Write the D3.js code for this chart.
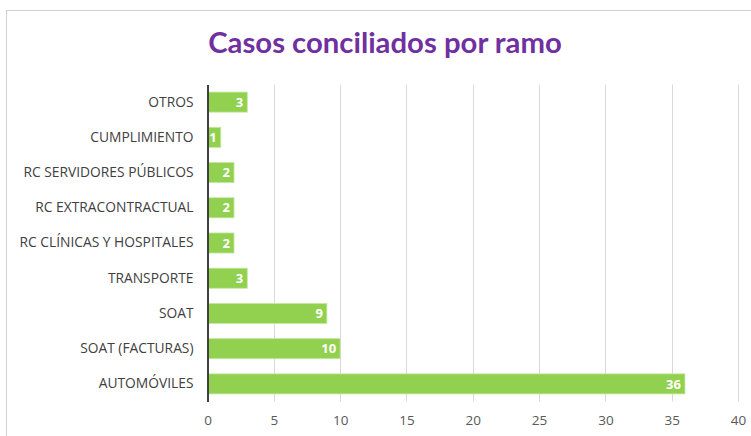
<!DOCTYPE html>
<html><head><meta charset="utf-8">
<script src="https://cdn.jsdelivr.net/npm/d3@7"></script>
<style>body{margin:0;background:#fff;}svg{display:block;}</style>
</head><body>
<script>
const categories = ["OTROS","CUMPLIMIENTO","RC SERVIDORES PÚBLICOS","RC EXTRACONTRACTUAL","RC CLÍNICAS Y HOSPITALES","TRANSPORTE","SOAT","SOAT (FACTURAS)","AUTOMÓVILES"];
const values = [3,1,2,2,2,3,9,10,36];
const ticks = [0,5,10,15,20,25,30,35,40];
const title = "Casos conciliados por ramo";

const W=751,H=436;
const svg=d3.select("body").append("svg").attr("width",W).attr("height",H);
svg.append("rect").attr("x",6.5).attr("y",10.5).attr("width",W).attr("height",H).attr("fill","#fff").attr("stroke","#d0d0d0");
svg.append("text").attr("x",385).attr("y",53).attr("text-anchor","middle")
  .attr("font-family","Lato, 'Open Sans', sans-serif").attr("font-weight","bold").attr("font-size",29.3)
  .attr("fill","#7030A0").text(title);

const x=d3.scaleLinear().domain([0,40]).range([207.5,738]);
const y=d3.scaleBand().domain(categories).range([84.5,401.5]).paddingInner(0.43).paddingOuter(0.215);

const g=svg.append("g");
g.selectAll("line.grid").data(ticks.slice(1)).join("line").attr("class","grid")
  .attr("x1",d=>Math.round(x(d))+0.5).attr("x2",d=>Math.round(x(d))+0.5).attr("y1",84.5).attr("y2",401.5)
  .attr("stroke","#d9d9d9").attr("stroke-width",1);

g.selectAll("rect.bar").data(values).join("rect").attr("class","bar")
  .attr("x",x(0)).attr("y",(d,i)=>y(categories[i])).attr("width",d=>x(d)-x(0)).attr("height",y.bandwidth())
  .attr("fill","#92D050").attr("stroke","#c6e8a4").attr("stroke-width",0.8);

g.selectAll("text.val").data(values).join("text").attr("class","val")
  .attr("x",d=>x(d)-4).attr("y",(d,i)=>y(categories[i])+y.bandwidth()/2).attr("dy","0.36em")
  .attr("text-anchor","end").attr("font-family","'Open Sans', sans-serif").attr("font-weight","bold").attr("font-size",13)
  .attr("fill","#fff").text(d=>d);

const xa=svg.append("g").attr("transform","translate(0,401.5)")
  .call(d3.axisBottom(x).tickValues(ticks).tickSize(0).tickPadding(14));
xa.select(".domain").remove();
xa.selectAll("text").attr("font-family","'Open Sans', sans-serif").attr("font-size",13.5).attr("fill","#595959");

const ya=svg.append("g").attr("transform","translate(207.5,0)")
  .call(d3.axisLeft(y).tickSize(0).tickPadding(14));
ya.select(".domain").attr("stroke","#404040").attr("stroke-width",2);
ya.selectAll("text").attr("font-family","'Open Sans', sans-serif").attr("font-size",13.8).attr("fill","#404040");
</script>
</body></html>
